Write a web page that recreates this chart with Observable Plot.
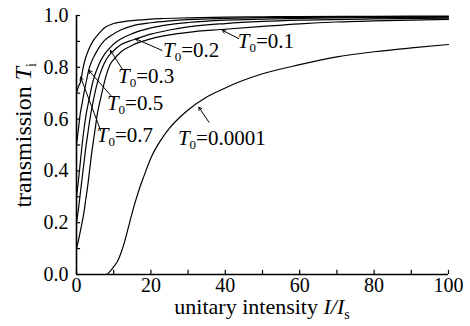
<!DOCTYPE html>
<html><head><meta charset="utf-8">
<script src="https://cdn.jsdelivr.net/npm/d3@7"></script>
<script src="https://cdn.jsdelivr.net/npm/@observablehq/plot@0.6"></script>
<style>
html,body{margin:0;padding:0;background:#fff;}
#chart svg{display:block;}
</style>
</head><body><div id="chart"></div>
<script>
// ---- data ----
const xTicks = [0, 20, 40, 60, 80, 100];
const xMinor = [10, 30, 50, 70, 90];
const yTicks = [0, 0.2, 0.4, 0.6, 0.8, 1.0];
const yMinor = [0.1, 0.3, 0.5, 0.7, 0.9];

const seriesNames = ["0.7", "0.5", "0.3", "0.2", "0.1", "0.0001"];

const curveT07 = [[0,0.70],[0.5,0.725],[1.1,0.745],[1.8,0.80],[2.4,0.834],[3.3,0.87],[4.6,0.905],[6,0.93],[7.3,0.95],[10,0.969],[13,0.977],[16.3,0.982],[22.6,0.988],[30,0.991],[40,0.994],[50,0.995],[60,0.996],[80,0.997],[100,0.998]];
const curveT05 = [[0,0.50],[0.5,0.56],[1,0.62],[1.5,0.66],[2,0.70],[2.7,0.75],[3.3,0.79],[4,0.82],[5,0.85],[6,0.875],[7.3,0.90],[9,0.92],[12,0.945],[15,0.96],[20,0.972],[25,0.979],[30,0.984],[40,0.989],[50,0.992],[60,0.993],[80,0.995],[100,0.996]];
const curveT03 = [[0,0.30],[0.5,0.36],[1,0.43],[1.5,0.50],[2,0.56],[2.5,0.61],[3.3,0.67],[4.5,0.75],[6,0.81],[7.5,0.85],[9,0.875],[10,0.89],[12,0.91],[15,0.93],[20,0.952],[25,0.965],[30,0.973],[40,0.982],[50,0.986],[60,0.989],[80,0.992],[100,0.994]];
const curveT02 = [[0,0.20],[0.5,0.25],[1,0.31],[1.5,0.37],[2,0.43],[2.5,0.49],[3,0.54],[3.5,0.59],[4.5,0.67],[6,0.76],[7,0.80],[8,0.83],[9,0.85],[10,0.865],[12,0.888],[14,0.90],[16,0.91],[20,0.928],[25,0.944],[30,0.956],[40,0.969],[50,0.977],[60,0.982],[80,0.987],[100,0.99]];
const curveT01 = [[0,0.10],[0.5,0.13],[1,0.165],[1.5,0.20],[2,0.24],[2.5,0.29],[3,0.34],[3.5,0.40],[4,0.46],[5,0.56],[5.6,0.62],[6.5,0.68],[8,0.77],[9,0.81],[10,0.83],[12,0.86],[15,0.885],[20,0.91],[25,0.925],[30,0.935],[39,0.946],[50,0.958],[60,0.968],[70,0.975],[80,0.979],[90,0.982],[100,0.985]];
const curveT00001 = [[0,0],[8,0],[9,0.012],[10,0.03],[11,0.05],[12,0.085],[13,0.13],[14,0.185],[15,0.24],[16,0.29],[17,0.335],[18,0.375],[20,0.45],[22.5,0.515],[25,0.565],[28,0.61],[30,0.635],[35,0.685],[40,0.72],[44,0.745],[50,0.775],[60,0.81],[70,0.84],[80,0.86],[90,0.875],[100,0.888]];

const curves = [curveT07, curveT05, curveT03, curveT02, curveT01, curveT00001];

// annotation placement (label start, leader tail, leader tip) in data units
const labelI = [5.6, 8.3, 11.3, 23.4, 43.5, 27.4];
const labelT = [0.51, 0.633, 0.737, 0.838, 0.873, 0.498];
const tailI  = [6.5, 9.6, 12.3, 23.0, 43.6, 35.6];
const tailT  = [0.556, 0.685, 0.794, 0.865, 0.911, 0.588];
const tipI   = [1.1, 3.3, 9.1, 15.9, 39.2, 32.9];
const tipT   = [0.762, 0.788, 0.865, 0.91, 0.943, 0.646];

// ---- build ----
const rows = curves.flatMap((c, k) => c.map(([I, T]) => ({series: seriesNames[k], I, T})));
const leaders = seriesNames.map((s, k) => ({s, x1: tailI[k], y1: tailT[k], x2: tipI[k], y2: tipT[k]}));

const FONT = "'Liberation Serif', 'Times New Roman', serif";

const plot = Plot.plot({
  width: 470, height: 326,
  marginLeft: 76, marginRight: 22, marginTop: 15, marginBottom: 52,
  x: {domain: [0, 100]},
  y: {domain: [0, 1]},
  style: {fontFamily: FONT, fontSize: "20px", color: "#000", background: "#fff", overflow: "visible"},
  marks: [
    Plot.axisX(xTicks, {tickSize: 0, tickPadding: 3, tickFormat: d => String(d), fontSize: 20, label: null}),
    Plot.axisY(yTicks, {tickSize: 0, tickPadding: 8, tickFormat: d3.format(".1f"), fontSize: 20, label: null}),
    Plot.ruleX([...xTicks, ...xMinor], {y1: 0, y2: 0.016, stroke: "#000", strokeWidth: 1.2}),
    Plot.ruleY([...yTicks, ...yMinor], {x1: 0, x2: 1.1, stroke: "#000", strokeWidth: 1.2}),
    Plot.line(rows, {x: "I", y: "T", z: "series", stroke: "#000", strokeWidth: 1.2, curve: "monotone-x"}),
    Plot.arrow(leaders, {x1: "x1", y1: "y1", x2: "x2", y2: "y2", stroke: "#000", strokeWidth: 1, headLength: 5, bend: 0}),
    Plot.ruleX([0], {stroke: "#000", strokeWidth: 1.6}),
    Plot.ruleY([0], {stroke: "#000", strokeWidth: 1.6})
  ]
});

document.getElementById("chart").appendChild(plot);

const sx = plot.scale("x"), sy = plot.scale("y");
const svg = d3.select(plot);

// annotations with subscripts
seriesNames.forEach((s, k) => {
  const t = svg.append("text")
    .attr("x", sx.apply(labelI[k]))
    .attr("y", sy.apply(labelT[k]))
    .attr("text-anchor", "start")
    .attr("font-family", FONT).attr("font-size", 21).attr("fill", "#000");
  t.append("tspan").attr("font-style", "italic").text("T");
  t.append("tspan").attr("font-size", 13).attr("dy", 4).text("0");
  t.append("tspan").attr("dy", -4).text("=" + s);
});

// x axis title
const xt = svg.append("text")
  .attr("x", (sx.range[0] + sx.range[1]) / 2)
  .attr("y", 314)
  .attr("text-anchor", "middle")
  .attr("font-family", FONT).attr("font-size", 22).attr("fill", "#000");
xt.append("tspan").text("unitary intensity ");
xt.append("tspan").attr("font-style", "italic").text("I/I");
xt.append("tspan").attr("font-size", 14).attr("dy", 5).text("s");

// y axis title
const yt = svg.append("text")
  .attr("transform", "translate(31,63) rotate(-90)")
  .attr("text-anchor", "end")
  .attr("font-family", FONT).attr("font-size", 24).attr("fill", "#000");
yt.append("tspan").text("transmission ");
yt.append("tspan").attr("font-style", "italic").text("T");
yt.append("tspan").attr("font-size", 14).attr("dy", 5).text("i");
</script>
</body></html>
